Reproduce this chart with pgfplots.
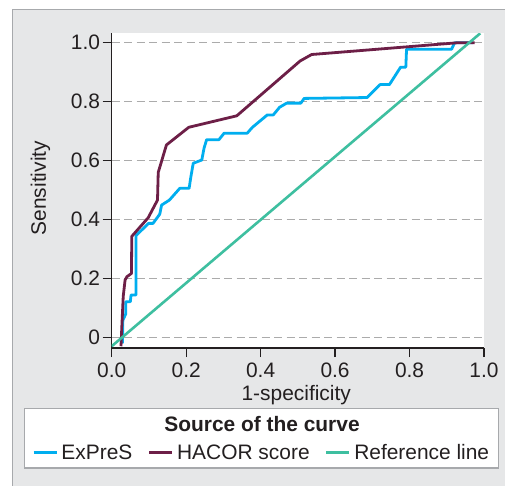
\documentclass[border=0pt]{standalone}
\usepackage{pgfplots}
\pgfplotsset{compat=1.18}
\usepackage{fontspec}
\setmainfont{Liberation Sans}

\definecolor{bggray}{HTML}{E6E7E8}
\definecolor{framegray}{HTML}{A7A9AC}
\definecolor{txt}{HTML}{231F20}
\definecolor{gridgray}{HTML}{ABABAB}
\definecolor{expres}{HTML}{00AEEF}
\definecolor{hacor}{HTML}{6D1F47}
\definecolor{refline}{HTML}{3EBFA0}

\newcommand{\chartfont}{\fontsize{21}{25}\selectfont}

\begin{document}
\begin{tikzpicture}
\path[use as bounding box] (0bp,0bp) rectangle (505bp,486bp);
% grey panel and legend box
\fill[bggray] (12bp,0bp) rectangle (505bp,477bp);
\draw[framegray, line width=1.2bp] (12.5bp,0bp) -- (12.5bp,476.5bp) -- (505bp,476.5bp);
\draw[framegray, line width=1.2bp, fill=white] (24.5bp,18bp) rectangle (498.5bp,77.5bp);
\node[font=\chartfont\bfseries, text=txt, anchor=base] at (262bp,54.5bp) {Source of the curve};

\begin{axis}[
  at={(111.7bp,138bp)}, anchor=south west,
  width=372.3bp, height=314.7bp, scale only axis,
  xmin=0, xmax=1, ymin=-0.036, ymax=1.032,
  axis x line*=bottom, axis y line*=left,
  axis line style={txt, line width=1.3bp},
  axis background/.style={fill=white},
  xtick={0,0.2,0.4,0.6,0.8,1},
  xticklabels={0.0,0.2,0.4,0.6,0.8,1.0},
  ytick={0,0.2,0.4,0.6,0.8,1},
  yticklabels={0,0.2,0.4,0.6,0.8,1.0},
  tick align=outside, major tick length=9bp,
  tick style={txt, line width=1.3bp},
  ymajorgrids,
  grid style={gridgray, line width=1.4bp, dash pattern=on 8bp off 4.5bp},
  ticklabel style={font=\chartfont, text=txt},
  yticklabel style={inner xsep=2.5bp},
  xticklabel style={inner ysep=2bp, yshift=-4bp},
  /pgf/number format/assume math mode=true,
  every axis y label/.style={at={(axis description cs:-0.1765,0.508)}, rotate=90, anchor=base, font=\chartfont, text=txt},
  every axis x label/.style={at={(axis description cs:0.4956,-0.1655)}, anchor=base, font=\chartfont, text=txt},
  xlabel={1-specificity},
  ylabel={Sensitivity},
  legend columns=3,
  legend style={at={(axis description cs:-0.2143,-0.3327)}, anchor=west,
    draw=none, fill=none, inner sep=0pt, font=\chartfont, text=txt,
    nodes={inner xsep=3.5bp, inner ysep=0bp},
    /tikz/every even column/.append style={column sep=12bp}},
  legend image code/.code={\draw[#1] (0bp,0bp) -- (23bp,0bp);},
  every axis plot/.append style={line join=round},
]

\addplot[expres, line width=2.8bp] coordinates {
  (0.029,-0.02) (0.030,0.059) (0.038,0.080) (0.038,0.121) (0.050,0.121)
  (0.052,0.144) (0.065,0.144) (0.065,0.345) (0.099,0.387) (0.111,0.387)
  (0.129,0.418) (0.134,0.449) (0.155,0.466) (0.183,0.506) (0.208,0.506)
  (0.212,0.540) (0.219,0.591) (0.242,0.602) (0.248,0.642) (0.255,0.671)
  (0.288,0.671) (0.302,0.693) (0.364,0.693) (0.378,0.713) (0.418,0.755)
  (0.434,0.755) (0.451,0.781) (0.470,0.795) (0.508,0.795) (0.517,0.811)
  (0.686,0.814) (0.721,0.858) (0.746,0.858) (0.776,0.917) (0.790,0.917)
  (0.792,0.978) (0.913,0.978) (0.921,1.0) (0.970,1.0)
};
\addlegendentry{ExPreS}

\addplot[hacor, line width=2.8bp] coordinates {
  (0.025,-0.03) (0.027,0.03) (0.031,0.14) (0.036,0.195) (0.041,0.206)
  (0.053,0.217) (0.054,0.343) (0.098,0.406) (0.123,0.466) (0.125,0.560)
  (0.147,0.653) (0.207,0.713) (0.336,0.752) (0.506,0.938) (0.537,0.960)
  (0.930,1.0) (0.975,1.0)
};
\addlegendentry{HACOR score}

\addplot[refline, line width=2.6bp] coordinates {
  (0,-0.03) (0.99,1.032)
};
\addlegendentry{Reference line}

\end{axis}
\end{tikzpicture}
\end{document}
